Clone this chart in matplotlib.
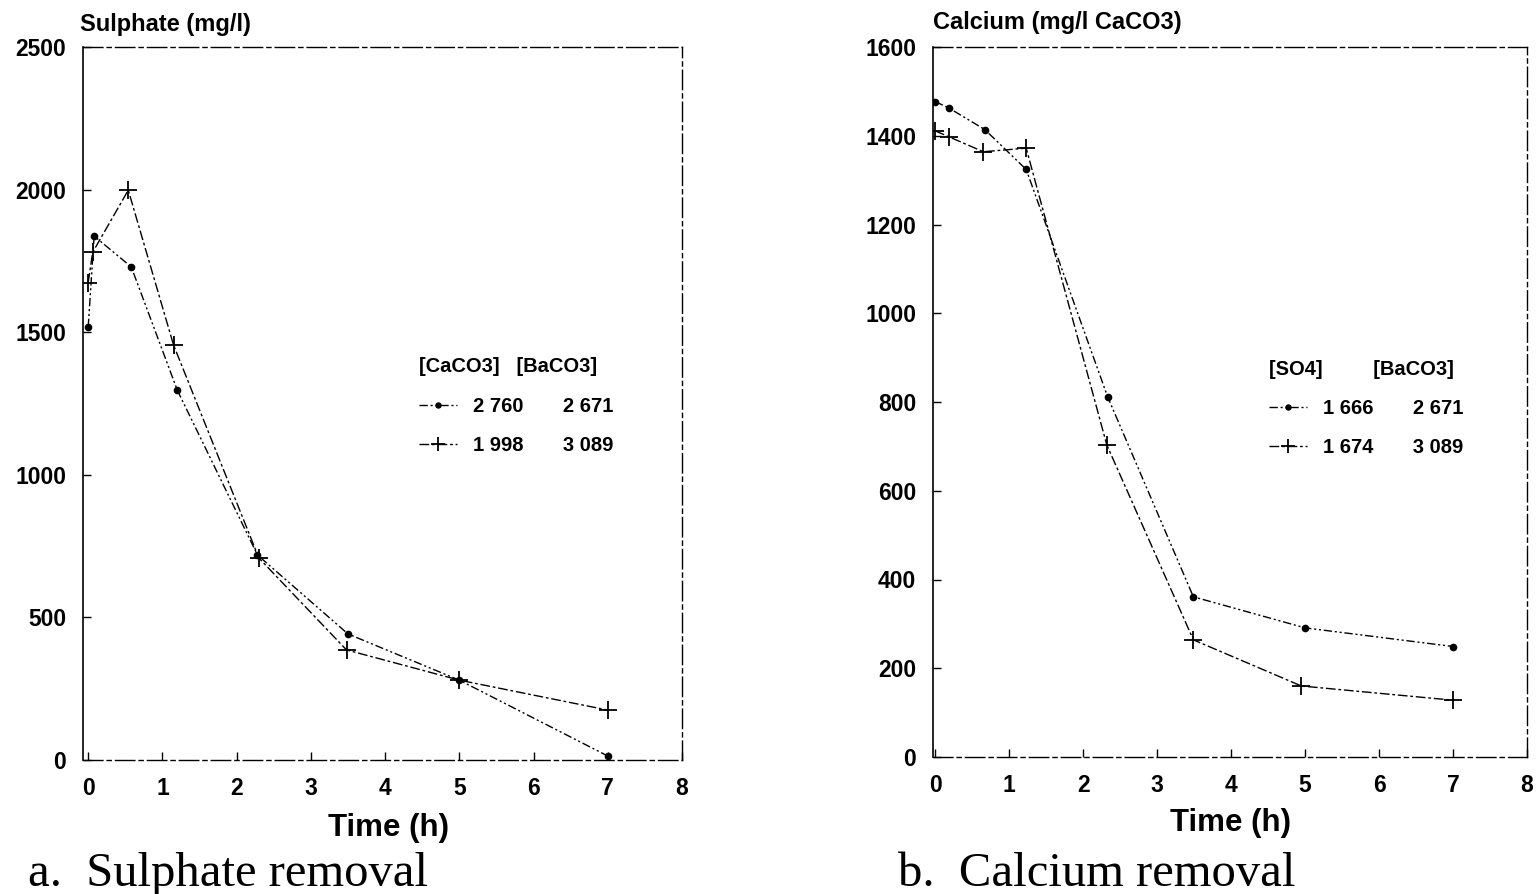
import matplotlib.pyplot as plt
from matplotlib.lines import Line2D

# a. Sulphate removal (mg/l)
t_so4_a = [0, 0.08, 0.58, 1.2, 2.28, 3.5, 5.0, 7.0]
so4_a = [1518, 1837, 1729, 1297, 719, 442, 280, 14]
t_so4_b = [0, 0.06, 0.54, 1.15, 2.3, 3.48, 5.0, 7.0]
so4_b = [1674, 1780, 1998, 1455, 708, 386, 280, 175]

# b. Calcium removal (mg/l CaCO3)
t_ca_a = [0, 0.18, 0.67, 1.23, 2.33, 3.49, 5.0, 7.0]
ca_a = [1477, 1463, 1414, 1324, 812, 361, 291, 249]
t_ca_b = [0, 0.18, 0.65, 1.23, 2.32, 3.49, 4.95, 7.0]
ca_b = [1411, 1398, 1364, 1372, 703, 264, 160, 128]

leg_a_title = '[CaCO3]   [BaCO3]'
leg_a_labels = ['2 760       2 671', '1 998       3 089']
leg_b_title = '[SO4]         [BaCO3]'
leg_b_labels = ['1 666       2 671', '1 674       3 089']

plt.rcParams['font.family'] = ['Liberation Sans', 'DejaVu Sans']
plt.rcParams['font.weight'] = 'bold'

fig = plt.figure(figsize=(15.36, 8.94), dpi=100)
ax1 = fig.add_axes([83 / 1536, 1 - 760 / 894, 599 / 1536, 713 / 894])
ax2 = fig.add_axes([933 / 1536, 1 - 757 / 894, 594 / 1536, 710 / 894])

dot_style = dict(color='black', lw=1.0, ls=(0, (6, 2, 1.5, 2, 1.5, 2)),
                 marker='o', ms=4.5)
plus_style = dict(color='black', lw=1.0, ls=(0, (7, 2, 2, 2)),
                  marker='+', ms=13, mew=1.3)


def style_axes(ax, ymax, yticks, xmin):
    ax.set_xlim(xmin, 8)
    ax.set_ylim(0, ymax)
    ax.set_xticks(range(0, 9))
    ax.set_yticks(yticks)
    ax.tick_params(direction='in', length=6, width=1, pad=12,
                   labelsize=16.5, top=False, right=False)
    for lab in ax.get_xticklabels() + ax.get_yticklabels():
        lab.set_fontweight('bold')
    for side in ['top', 'right', 'bottom']:
        ax.spines[side].set_linestyle((0, (14, 3, 3, 3)))
        ax.spines[side].set_linewidth(1.0)
    ax.spines['left'].set_linewidth(1.2)
    ax.set_xlabel('Time (h)', fontsize=22.5, fontweight='bold', labelpad=8)


ax1.plot(t_so4_a, so4_a, **dot_style)
ax1.plot(t_so4_b, so4_b, **plus_style)
style_axes(ax1, 2500, [0, 500, 1000, 1500, 2000, 2500], -0.07)
ax1.xaxis.set_label_coords(0.51, -0.075)

ax2.plot(t_ca_a, ca_a, **dot_style)
ax2.plot(t_ca_b, ca_b, **plus_style)
style_axes(ax2, 1600, [0, 200, 400, 600, 800, 1000, 1200, 1400, 1600], -0.03)

handles = [Line2D([], [], **dot_style), Line2D([], [], **plus_style)]
for ax, title, labels, anchor in [(ax1, leg_a_title, leg_a_labels, (0.53, 0.59)),
                                  (ax2, leg_b_title, leg_b_labels, (0.535, 0.585))]:
    leg = ax.legend(handles, labels, title=title, loc='upper left',
                    bbox_to_anchor=anchor, frameon=False, fontsize=14.5,
                    title_fontsize=14.5, handlelength=1.9, handletextpad=0.8,
                    labelspacing=1.0, markerscale=0.8)
    leg._legend_box.align = 'left'
    leg.get_title().set_fontweight('bold')

fig.text(80 / 1536, 1 - 25 / 894, 'Sulphate (mg/l)', fontsize=17,
         fontweight='bold', va='center', ha='left')
fig.text(933 / 1536, 1 - 22 / 894, 'Calcium (mg/l CaCO3)', fontsize=17,
         fontweight='bold', va='center', ha='left')

fig.text(28 / 1536, 1 - 886 / 894, 'a.  Sulphate removal', fontsize=35,
         family='Liberation Serif', fontweight='normal', va='baseline')
fig.text(898 / 1536, 1 - 886 / 894, 'b.  Calcium removal', fontsize=35,
         family='Liberation Serif', fontweight='normal', va='baseline')

fig.savefig('out.png', dpi=100, facecolor='white')
